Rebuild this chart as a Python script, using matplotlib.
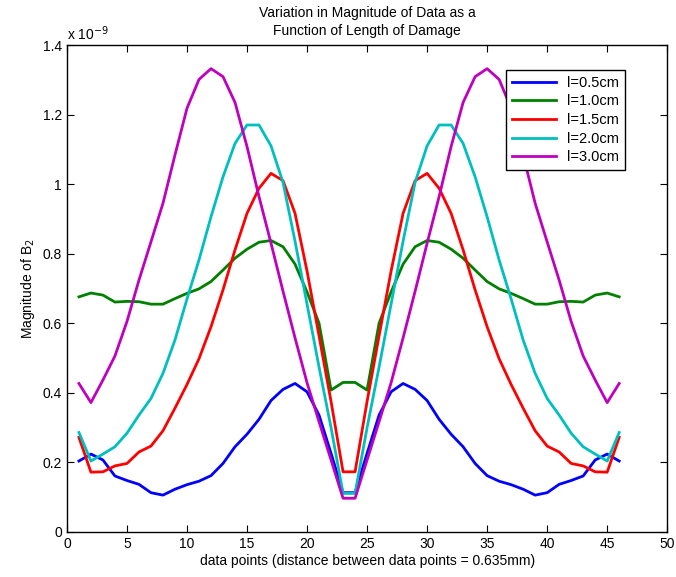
import numpy as np
import matplotlib
matplotlib.use("Agg")
import matplotlib.pyplot as plt

plt.rcParams['font.family'] = ['Liberation Sans', 'DejaVu Sans']
plt.rcParams['font.size'] = 10

# -------- data (values in units of 1e-9) --------
x = np.arange(1, 47)

l05 = [0.204, 0.224, 0.207, 0.161, 0.148, 0.137, 0.113, 0.106, 0.123, 0.136,
       0.146, 0.162, 0.197, 0.245, 0.281, 0.324, 0.378, 0.410, 0.427, 0.403,
       0.336, 0.226, 0.113, 0.113, 0.226, 0.336, 0.403, 0.427, 0.410, 0.378,
       0.324, 0.281, 0.245, 0.197, 0.162, 0.146, 0.136, 0.123, 0.106, 0.113,
       0.137, 0.148, 0.161, 0.207, 0.224, 0.204]
l10 = [0.676, 0.687, 0.681, 0.661, 0.663, 0.662, 0.655, 0.655, 0.671, 0.686,
       0.699, 0.720, 0.753, 0.787, 0.813, 0.833, 0.838, 0.820, 0.770, 0.690,
       0.600, 0.408, 0.430, 0.430, 0.408, 0.600, 0.690, 0.770, 0.820, 0.838,
       0.833, 0.813, 0.787, 0.753, 0.720, 0.699, 0.686, 0.671, 0.655, 0.655,
       0.662, 0.663, 0.661, 0.681, 0.687, 0.676]
l15 = [0.272, 0.172, 0.173, 0.190, 0.197, 0.230, 0.247, 0.291, 0.356, 0.424,
       0.498, 0.590, 0.696, 0.811, 0.916, 0.988, 1.031, 1.010, 0.916, 0.750,
       0.564, 0.375, 0.173, 0.173, 0.375, 0.564, 0.750, 0.916, 1.010, 1.031,
       0.988, 0.916, 0.811, 0.696, 0.590, 0.498, 0.424, 0.356, 0.291, 0.247,
       0.230, 0.197, 0.190, 0.173, 0.172, 0.272]
l20 = [0.286, 0.204, 0.224, 0.245, 0.284, 0.336, 0.384, 0.456, 0.552, 0.670,
       0.782, 0.906, 1.021, 1.117, 1.170, 1.170, 1.110, 1.005, 0.836, 0.655,
       0.474, 0.300, 0.111, 0.111, 0.300, 0.474, 0.655, 0.836, 1.005, 1.110,
       1.170, 1.170, 1.117, 1.021, 0.906, 0.782, 0.670, 0.552, 0.456, 0.384,
       0.336, 0.284, 0.245, 0.224, 0.204, 0.286]
l30 = [0.427, 0.372, 0.437, 0.506, 0.605, 0.724, 0.834, 0.945, 1.084, 1.218,
       1.301, 1.332, 1.309, 1.235, 1.108, 0.964, 0.830, 0.692, 0.558, 0.429,
       0.317, 0.207, 0.097, 0.097, 0.207, 0.317, 0.429, 0.558, 0.692, 0.830,
       0.964, 1.108, 1.235, 1.309, 1.332, 1.301, 1.218, 1.084, 0.945, 0.834,
       0.724, 0.605, 0.506, 0.437, 0.372, 0.427]

series = [l05, l10, l15, l20, l30]
labels = ["l=0.5cm", "l=1.0cm", "l=1.5cm", "l=2.0cm", "l=3.0cm"]
colors = ["#0000ff", "#008000", "#ff0000", "#00bfbf", "#bf00bf"]

fig = plt.figure(figsize=(6.76, 5.77), dpi=100)
ax = fig.add_axes([0.099, 0.078, 0.888, 0.844])

for y, lab, c in zip(series, labels, colors):
    ax.plot(x, y, color=c, lw=2, label=lab)

ax.set_xlim(0, 50)
ax.set_ylim(0, 1.4)
ax.set_xticks(np.arange(0, 51, 5))
ax.set_yticks(np.arange(0, 1.41, 0.2))
ax.set_yticklabels(["0", "0.2", "0.4", "0.6", "0.8", "1", "1.2", "1.4"])
ax.tick_params(direction="in", top=True, right=True, length=5, width=0.8)
for s in ax.spines.values():
    s.set_linewidth(1)

ax.text(0.0, 1.005, r"x 10$^{-9}$", transform=ax.transAxes, ha="left", va="bottom")
ax.set_title("Variation in Magnitude of Data as a\nFunction of Length of Damage",
             fontsize=10, pad=7, linespacing=1.35)
ax.set_xlabel("data points (distance between data points = 0.635mm)", labelpad=2)
ax.set_ylabel("Magnitude of B$_2$", labelpad=4)

leg = ax.legend(loc="upper right", bbox_to_anchor=(0.93, 0.949), borderaxespad=0,
                fancybox=False, edgecolor="black", framealpha=1, handlelength=3.0,
                borderpad=0.4, labelspacing=0.32, fontsize=10.5)
leg.get_frame().set_linewidth(1)

fig.savefig("out.png", dpi=100)
